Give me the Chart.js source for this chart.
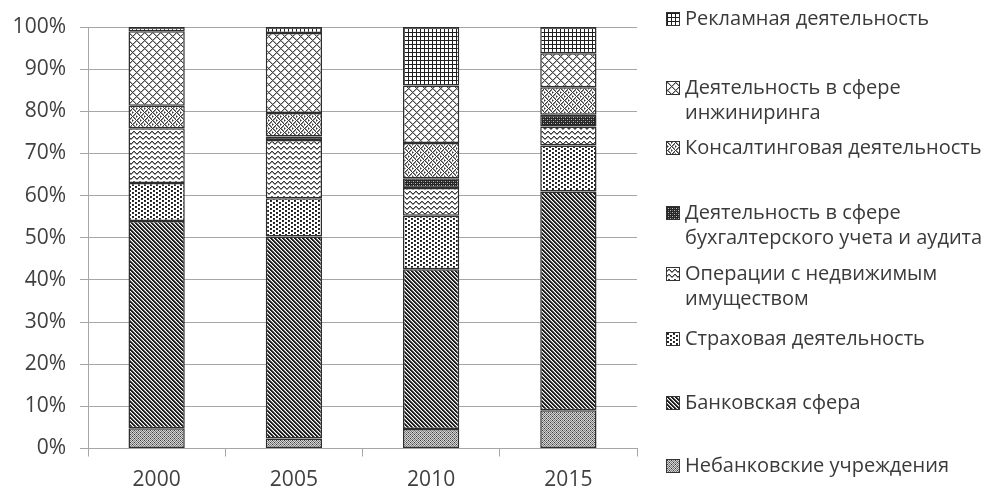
<!DOCTYPE html>
<html lang="ru">
<head>
<meta charset="UTF-8">
<title>Структура сферы услуг</title>
<script src="https://cdn.jsdelivr.net/npm/chart.js@4.4.0/dist/chart.umd.min.js"></script>
<style>
  body { margin: 0; background: #fff; }
  #wrap { position: relative; width: 984px; height: 493px; }
  #legend { position: absolute; left: 666px; top: 0; font-family: 'Open Sans'; font-size: 20px; color: #3a3a3a; }
  .item { position: absolute; left: 0; display: flex; align-items: flex-start; line-height: 25px; white-space: pre; }
  .item canvas { margin-top: 7px; margin-right: 5px; border: 1px solid #333; flex: none; }
</style>
</head>
<body>
<div id="wrap">
  <canvas id="myChart" width="984" height="493"></canvas>
  <div id="legend"></div>
</div>
<script>
// data (percent of total)
const years = ['2000', '2005', '2010', '2015'];
const nonBank     = [4.8, 2.4, 4.6, 9.1];
const banking     = [49.2, 47.9, 37.9, 51.9];
const insurance   = [9.0, 9.1, 12.7, 10.9];
const realEstate  = [13.0, 13.8, 6.6, 4.5];
const accounting  = [0, 0.8, 2.3, 2.8];
const consulting  = [5.3, 5.6, 8.4, 6.5];
const engineering = [17.7, 19.0, 13.6, 8.1];
const advertising = [1.0, 1.4, 13.9, 6.2];
const yTicks = [0, 10, 20, 30, 40, 50, 60, 70, 80, 90, 100];

// hatch tiles, one per series
function tile(w, h, draw) {
  const c = document.createElement('canvas');
  c.width = w; c.height = h;
  const g = c.getContext('2d');
  g.fillStyle = '#fff';
  g.fillRect(0, 0, w, h);
  const px = (x, y, col) => { g.fillStyle = col; g.fillRect(x, y, 1, 1); };
  draw(px, g);
  return c;
}

const tiles = {
  nonBank: tile(4, 4, px => {
    for (let x = 0; x < 4; x++) for (let y = 0; y < 4; y++)
      px(x, y, (x + y) % 2 == 0 ? '#7e7e7e' : '#d4d4d4');
    px(0, 0, '#3a3a3a'); px(2, 2, '#3a3a3a');
  }),
  banking: tile(4, 4, px => {
    for (let x = 0; x < 4; x++) for (let y = 0; y < 4; y++) {
      const d = ((x - y) % 4 + 4) % 4;
      if (d < 2) px(x, y, '#1e1e1e');
      else if (d == 2) px(x, y, '#8a8a8a');
    }
  }),
  insurance: tile(6, 4, px => {
    [[0, 0], [3, 2]].forEach(([a, b]) => {
      px(a, b, '#1a1a1a'); px(a + 1, b, '#2a2a2a'); px(a, b + 1, '#2a2a2a'); px(a + 1, b + 1, '#3a3a3a');
    });
  }),
  realEstate: tile(6, 5, px => {
    const ys = [2, 1, 1, 2, 3, 3];
    ys.forEach((y, x) => { px(x, y, '#3c3c3c'); px(x, y + 1, '#9a9a9a'); });
  }),
  accounting: tile(4, 4, (px, g) => {
    g.fillStyle = '#262626'; g.fillRect(0, 0, 4, 4);
    px(1, 1, '#bbb'); px(3, 3, '#bbb'); px(1, 3, '#666'); px(3, 1, '#666');
  }),
  consulting: tile(8, 8, px => {
    for (let x = 0; x < 8; x++) for (let y = 0; y < 8; y++) {
      const blk = (Math.floor(x / 4) + Math.floor(y / 4)) % 2;
      const d = blk ? (x + y) % 4 : ((x - y) % 4 + 4) % 4;
      if (d == 0) px(x, y, '#3c3c3c');
      else if (d == 1) px(x, y, '#8e8e8e');
    }
  }),
  engineering: tile(8, 8, px => {
    for (let x = 0; x < 8; x++) for (let y = 0; y < 8; y++) {
      const a = ((x - y) % 8 + 8) % 8, b = (x + y) % 8;
      if (a == 0 || b == 0) px(x, y, '#444');
      else if (a == 1 || b == 1) px(x, y, '#b4b4b4');
    }
  }),
  advertising: tile(4, 4, px => {
    for (let i = 0; i < 4; i++) { px(i, 0, '#1e1e1e'); px(0, i, '#1e1e1e'); }
  })
};

const ctx = document.getElementById('myChart').getContext('2d');
const pat = key => ctx.createPattern(tiles[key], 'repeat');

// bottom to top of the stack
const series = [
  { key: 'nonBank',     label: 'Небанковские учреждения',                     data: nonBank },
  { key: 'banking',     label: 'Банковская сфера',                            data: banking },
  { key: 'insurance',   label: 'Страховая деятельность',                      data: insurance },
  { key: 'realEstate',  label: 'Операции с недвижимым\nимуществом',           data: realEstate },
  { key: 'accounting',  label: 'Деятельность в сфере\nбухгалтерского учета и аудита', data: accounting },
  { key: 'consulting',  label: 'Консалтинговая деятельность',                 data: consulting },
  { key: 'engineering', label: 'Деятельность в сфере\nинжиниринга',           data: engineering },
  { key: 'advertising', label: 'Рекламная деятельность',                      data: advertising }
];

const font = { family: "'Open Sans'", size: 21 };
const gridCol = '#a6a6a6';

new Chart(ctx, {
  type: 'bar',
  data: {
    labels: years,
    datasets: series.map(s => ({
      label: s.label,
      data: s.data,
      backgroundColor: pat(s.key),
      borderColor: '#2e2e2e',
      borderWidth: 1.5,
      borderSkipped: false,
      categoryPercentage: 1,
      barPercentage: 0.41
    }))
  },
  options: {
    responsive: false,
    animation: false,
    layout: { padding: { top: 27, right: 347, bottom: 0, left: 0 } },
    plugins: { legend: { display: false }, tooltip: { enabled: false } },
    scales: {
      x: {
        stacked: true,
        afterFit: s => { s.height = 44.5; },
        grid: { offset: true, drawOnChartArea: false, color: gridCol, tickLength: 8 },
        border: { color: gridCol },
        ticks: { color: '#404040', font: font, padding: 11 }
      },
      y: {
        stacked: true,
        min: 0, max: 100,
        afterFit: s => { s.width = 88; },
        afterBuildTicks: s => { s.ticks = yTicks.map(v => ({ value: v })); },
        grid: { color: gridCol, tickLength: 8 },
        border: { color: gridCol },
        ticks: { color: '#404040', font: font, padding: 14, callback: v => v + '%' }
      }
    }
  }
});

// legend on the right, top to bottom is reverse of the stack
const legendTops = [5, 74, 134, 199, 260, 325, 389, 452];
const legend = document.getElementById('legend');
series.slice().reverse().forEach((s, i) => {
  const row = document.createElement('div');
  row.className = 'item';
  row.style.top = legendTops[i] + 'px';
  const sw = document.createElement('canvas');
  sw.width = 12; sw.height = 12;
  const sctx = sw.getContext('2d');
  sctx.fillStyle = sctx.createPattern(tiles[s.key], 'repeat');
  sctx.fillRect(0, 0, 12, 12);
  const txt = document.createElement('span');
  txt.textContent = s.label;
  row.appendChild(sw);
  row.appendChild(txt);
  legend.appendChild(row);
});
</script>
</body>
</html>
